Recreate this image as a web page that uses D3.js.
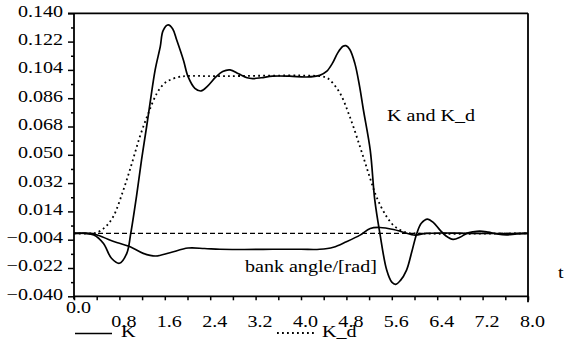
<!DOCTYPE html>
<html><head><meta charset="utf-8">
<script src="https://cdn.jsdelivr.net/npm/d3@7"></script>
<style>
html,body{margin:0;padding:0;background:#fff;}
svg{display:block;}
</style></head>
<body>
<svg id="chart" width="579" height="343"></svg>
<script>
// ---- data ----
const tK = [0,0.2,0.35,0.52,0.66,0.8,0.93,1.0,1.10,1.19,1.28,1.34,1.43,1.52,1.57,1.66,1.74,1.81,1.93,2.01,2.13,2.24,2.35,2.5,2.62,2.75,2.9,3.05,3.15,3.3,3.5,3.8,4.1,4.33,4.45,4.55,4.65,4.74,4.79,4.86,4.95,5.03,5.1,5.22,5.3,5.39,5.51,5.6,5.67,5.75,5.86,5.95,6.04,6.12,6.23,6.33,6.45,6.55,6.68,6.8,6.92,7.03,7.15,7.3,7.45,7.62,7.8,8.0];
const vK = [0,0,-0.001,-0.0064,-0.0158,-0.019,-0.0127,0,0.0233,0.0467,0.068,0.0828,0.104,0.1188,0.129,0.1326,0.130,0.123,0.110,0.0997,0.0923,0.0906,0.0935,0.0995,0.103,0.104,0.1015,0.099,0.0985,0.099,0.100,0.100,0.0995,0.1005,0.103,0.108,0.115,0.119,0.1194,0.117,0.108,0.094,0.0785,0.053,0.0213,0,-0.0233,-0.031,-0.0324,-0.030,-0.0233,-0.012,0,0.0065,0.0091,0.007,0.0021,-0.0015,-0.0038,-0.0025,0,0.001,0.0015,0.0008,-0.0003,-0.0009,-0.0003,0];
const tKd = [0,0.3,0.4,0.55,0.69,0.87,1.02,1.16,1.31,1.46,1.58,1.69,1.85,1.99,2.5,4.33,4.45,4.51,4.69,4.86,5.04,5.19,5.33,5.51,5.66,5.86,6.0,8.0];
const vKd = [0,0,0.0005,0.004,0.0106,0.0276,0.0446,0.0615,0.0764,0.0891,0.095,0.0976,0.0995,0.1001,0.1,0.1,0.099,0.0976,0.089,0.0742,0.0551,0.0382,0.0233,0.0106,0.0042,0.0005,0,0];
const tBank = [0,0.28,0.45,0.63,0.8,0.99,1.22,1.44,1.69,2.01,2.3,2.57,3.0,3.5,4.0,4.33,4.57,4.8,5.04,5.22,5.39,5.63,5.8,6.01,6.2,6.5,7.0,8.0];
const vBank = [0,0,-0.0015,-0.0042,-0.0063,-0.0085,-0.0127,-0.0144,-0.0123,-0.0093,-0.0096,-0.0101,-0.0102,-0.0101,-0.0101,-0.0101,-0.0088,-0.0053,-0.0011,0.0032,0.0038,0.0025,0.0008,-0.0011,0,0.0003,0,0];
const yTicks = [-0.040,-0.022,-0.004,0.014,0.032,0.050,0.068,0.086,0.104,0.122,0.140];
const yMinor = [-0.031,-0.013,0.005,0.023,0.041,0.059,0.077,0.095,0.113,0.131];
const xTicks = [0,0.8,1.6,2.4,3.2,4.0,4.8,5.6,6.4,7.2,8.0];
const xMinor = [0.4,1.2,2.0,2.8,3.6,4.4,5.2,6.0,6.8,7.6];
const zeroRef = [0, 8];

// ---- layout ----
const FONT = '"Liberation Serif"';
const L=74, R=528, T=13.3, B=296.3, SX=1.18;
const svg = d3.select("#chart");
const x = d3.scaleLinear().domain([0,8]).range([L,R]);
const y = d3.scaleLinear().domain([-0.040,0.140]).range([B,T]);

// y axis major
const gy = svg.append("g").attr("transform",`translate(${L},0)`)
  .call(d3.axisLeft(y).tickValues(yTicks).tickSize(6).tickSizeOuter(0).tickFormat(d3.format(".3f")));
gy.attr("font-family",null).attr("font-size",null);
gy.select(".domain").remove();
gy.selectAll("line").attr("stroke","#000").attr("stroke-width",1.5);
gy.selectAll("text").attr("fill","#000").style("font-family",FONT).style("font-size","17px")
  .attr("x",-11/SX).attr("dy","0.32em").attr("y",-2.5).attr("transform",`scale(${SX},1)`);
// y minor
const gym = svg.append("g").attr("transform",`translate(${L},0)`)
  .call(d3.axisLeft(y).tickValues(yMinor).tickSize(3).tickSizeOuter(0).tickFormat(""));
gym.select(".domain").remove();
gym.selectAll("line").attr("stroke","#000").attr("stroke-width",1.5);

// x axis
const gx = svg.append("g").attr("transform",`translate(0,${B})`)
  .call(d3.axisBottom(x).tickValues(xTicks).tickSize(4).tickSizeOuter(0).tickFormat(d3.format(".1f")));
gx.attr("font-family",null).attr("font-size",null);
gx.select(".domain").remove();
gx.selectAll("line").attr("stroke","#000").attr("stroke-width",1.5);
gx.selectAll("text").attr("fill","#000").style("font-family",FONT).style("font-size","17px")
  .attr("dy",null).attr("text-anchor","middle")
  .attr("y",d=> d===0 ? 17 : 31)
  .attr("x",4/SX)
  .attr("transform",`scale(${SX},1)`);
const gxm = svg.append("g").attr("transform",`translate(0,${B})`)
  .call(d3.axisBottom(x).tickValues(xMinor).tickSize(4).tickSizeOuter(0).tickFormat(""));
gxm.select(".domain").remove();
gxm.selectAll("line").attr("stroke","#000").attr("stroke-width",1.5);

// frame
const frame = svg.append("g").attr("stroke","#000").attr("stroke-width",1.8).attr("fill","none");
frame.append("line").attr("x1",L).attr("x2",L).attr("y1",T).attr("y2",B+3);
frame.append("line").attr("x1",L-6).attr("x2",R).attr("y1",T).attr("y2",T);
frame.append("line").attr("x1",R).attr("x2",R).attr("y1",T).attr("y2",B+6);
frame.append("line").attr("x1",L).attr("x2",R).attr("y1",B).attr("y2",B);

// lines
const line = (ts,vs)=> d3.line().curve(d3.curveCatmullRom.alpha(0.5))
  .x((d,i)=>x(ts[i])).y((d,i)=>y(vs[i]))(vs);
svg.append("path").attr("d",line(zeroRef,[0,0])).attr("fill","none")
  .attr("stroke","#000").attr("stroke-width",1.4).attr("stroke-dasharray","5,3");
svg.append("path").attr("d",line(tKd,vKd)).attr("fill","none")
  .attr("stroke","#000").attr("stroke-width",1.8).attr("stroke-dasharray","1.8,3.2");
svg.append("path").attr("d",line(tBank,vBank)).attr("fill","none")
  .attr("stroke","#000").attr("stroke-width",1.6);
svg.append("path").attr("d",line(tK,vK)).attr("fill","none")
  .attr("stroke","#000").attr("stroke-width",1.7);

// annotations
const ann = (tx,xx,yy)=> svg.append("text").attr("fill","#000")
  .style("font-family",FONT).style("font-size","17px")
  .attr("transform",`translate(${xx},${yy}) scale(${SX},1)`).text(tx);
ann("K and K_d",387,121);
ann("bank angle/[rad]",245,272);
ann("t",558,278);

// legend
svg.append("line").attr("x1",75).attr("x2",112).attr("y1",333.5).attr("y2",333.5)
  .attr("stroke","#000").attr("stroke-width",1.6);
ann("K",121,337);
svg.append("line").attr("x1",277).attr("x2",314).attr("y1",333).attr("y2",333)
  .attr("stroke","#000").attr("stroke-width",1.8).attr("stroke-dasharray","1.8,3.2");
ann("K_d",322,337);
</script>
</body></html>
